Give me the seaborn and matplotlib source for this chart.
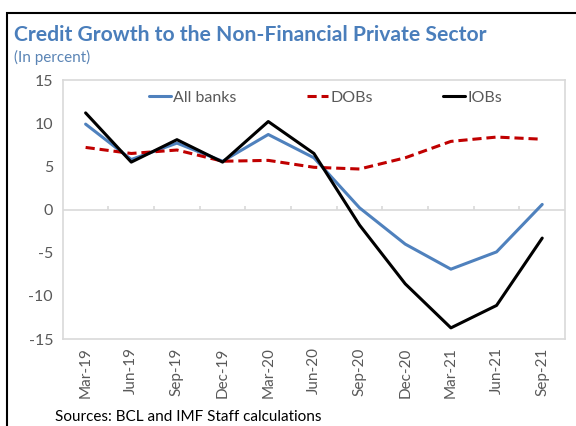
import numpy as np
import pandas as pd
import matplotlib
matplotlib.use('Agg')
import matplotlib.pyplot as plt
from matplotlib.patches import Rectangle
import seaborn as sns

quarters = ['Mar-19', 'Jun-19', 'Sep-19', 'Dec-19', 'Mar-20', 'Jun-20',
            'Sep-20', 'Dec-20', 'Mar-21', 'Jun-21', 'Sep-21']
all_banks = [9.9, 5.8, 7.7, 5.6, 8.7, 6.0, 0.2, -4.0, -6.9, -4.9, 0.6]
dobs = [7.2, 6.5, 6.9, 5.6, 5.7, 4.9, 4.7, 6.0, 7.9, 8.4, 8.15]
iobs = [11.2, 5.5, 8.1, 5.5, 10.2, 6.5, -1.8, -8.6, -13.7, -11.1, -3.3]

sns.set_style('white')
plt.rcParams['font.family'] = ['Lato', 'DejaVu Sans']
plt.rcParams['axes.unicode_minus'] = False

grey = '#595959'
light = '#D9D9D9'
pos = np.arange(len(quarters))
df = pd.DataFrame({'pos': pos, 'All banks': all_banks, 'DOBs': dobs, 'IOBs': iobs})

fig = plt.figure(figsize=(5.76, 4.26), dpi=100)
ax = fig.add_axes([0.109, 0.204, 0.872, 0.608])

sns.lineplot(data=df, x='pos', y='All banks', ax=ax, color='#4F81BD', lw=2.2, label='All banks')
sns.lineplot(data=df, x='pos', y='DOBs', ax=ax, color='#C00000', lw=2.2, label='DOBs',
             linestyle=(0, (3, 1.6)))
sns.lineplot(data=df, x='pos', y='IOBs', ax=ax, color='black', lw=2.2, label='IOBs')

ax.set_xlim(-0.5, len(quarters) - 0.5)
ax.set_ylim(-15, 15)
ax.set_yticks(range(-15, 16, 5))
ax.set_xticks(pos)
ax.set_xticklabels(quarters, rotation=90, fontsize=11, color=grey)
ax.tick_params(axis='x', length=0, pad=6)
ax.tick_params(axis='y', length=4, color=light, width=1, labelsize=11.5, labelcolor=grey, pad=3)
ax.set_xlabel('')
ax.set_ylabel('')

# zero line with category ticks
ax.axhline(0, color=light, lw=1.2, zorder=1)
ax.vlines(pos[:-1] + 0.5, 0, 0.45, color=light, lw=1.2, zorder=1)

for s in ax.spines.values():
    s.set_color(light)
    s.set_linewidth(1.2)

leg = ax.legend(loc='upper center', bbox_to_anchor=(0.523, 1.015), ncol=3, frameon=False,
                fontsize=11.5, handlelength=1.35, handletextpad=0.15, columnspacing=4.4)
for t in leg.get_texts():
    t.set_color(grey)

fig.text(0.024, 0.918, 'Credit Growth to the Non-Financial Private Sector',
         fontsize=15.2, fontweight='bold', color='#4A7EBB', va='center')
fig.text(0.024, 0.866, '(In percent)', fontsize=11, color='#5A84B5', va='center')
fig.text(0.095, 0.02, 'Sources: BCL and IMF Staff calculations', fontsize=11, color='black', va='center')

fig.patches.append(Rectangle((7 / 576, -0.5), 1.5, 1 - 13 / 426 + 0.5, transform=fig.transFigure,
                             fill=False, edgecolor='black', lw=1.5, clip_on=False))

fig.savefig('out.png', dpi=100)
